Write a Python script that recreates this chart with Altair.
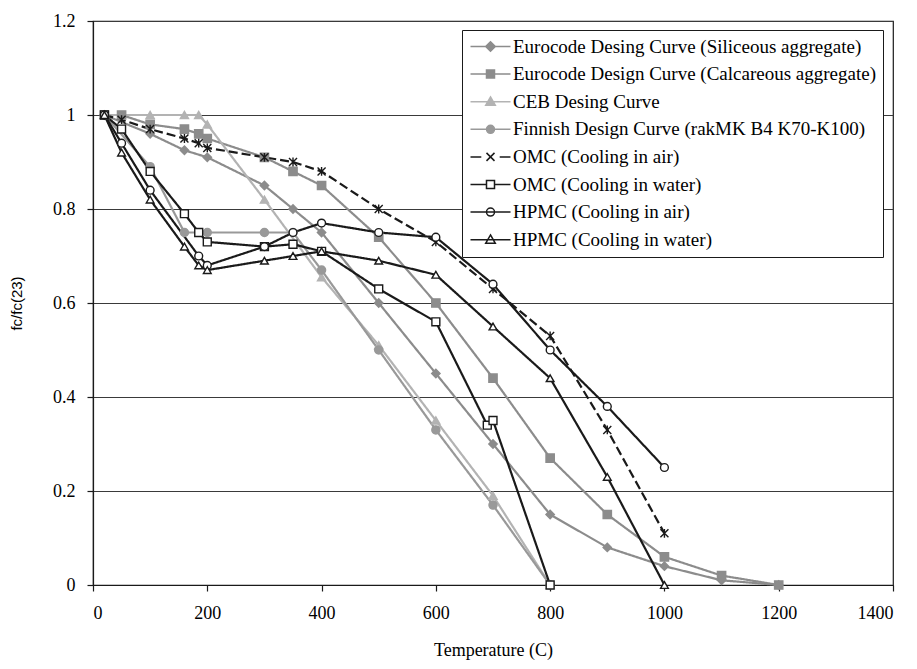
import altair as alt
import pandas as pd

# ---------------- data ----------------
names = [
    "Eurocode Desing Curve (Siliceous aggregate)",
    "Eurocode Design Curve (Calcareous aggregate)",
    "CEB Desing Curve",
    "Finnish Design Curve (rakMK B4 K70-K100)",
    "OMC (Cooling in air)",
    "OMC (Cooling in water)",
    "HPMC (Cooling in air)",
    "HPMC (Cooling in water)",
]

T_sil = [20, 100, 160, 200, 300, 350, 400, 500, 600, 700, 800, 900, 1000, 1100, 1200]
V_sil = [1.0, 0.96, 0.925, 0.91, 0.85, 0.80, 0.75, 0.60, 0.45, 0.30, 0.15, 0.08, 0.04, 0.01, 0.0]

T_cal = [20, 50, 100, 160, 185, 200, 300, 350, 400, 500, 600, 700, 800, 900, 1000, 1100, 1200]
V_cal = [1.0, 1.0, 0.98, 0.97, 0.96, 0.95, 0.91, 0.88, 0.85, 0.74, 0.60, 0.44, 0.27, 0.15, 0.06, 0.02, 0.0]

T_ceb = [20, 100, 160, 185, 200, 300, 400, 500, 600, 700, 800]
V_ceb = [1.0, 1.0, 1.0, 1.0, 0.98, 0.82, 0.655, 0.51, 0.35, 0.19, 0.0]

T_fin = [20, 100, 160, 200, 300, 350, 400, 500, 600, 700, 800]
V_fin = [1.0, 0.89, 0.75, 0.75, 0.75, 0.75, 0.67, 0.50, 0.33, 0.17, 0.0]

T_omc_air = [20, 50, 100, 160, 185, 200, 300, 350, 400, 500, 600, 700, 800, 900, 1000]
V_omc_air = [1.0, 0.99, 0.97, 0.95, 0.94, 0.93, 0.91, 0.90, 0.88, 0.80, 0.73, 0.63, 0.53, 0.33, 0.11]

T_omc_wat = [20, 50, 100, 160, 185, 200, 300, 350, 400, 500, 600, 690, 700, 800]
V_omc_wat = [1.0, 0.97, 0.88, 0.79, 0.75, 0.73, 0.72, 0.725, 0.71, 0.63, 0.56, 0.34, 0.35, 0.0]

T_hpmc_air = [20, 50, 100, 185, 200, 300, 350, 400, 500, 600, 700, 800, 900, 1000]
V_hpmc_air = [1.0, 0.94, 0.84, 0.70, 0.68, 0.72, 0.75, 0.77, 0.75, 0.74, 0.64, 0.50, 0.38, 0.25]

T_hpmc_wat = [20, 50, 100, 160, 185, 200, 300, 350, 400, 500, 600, 700, 800, 900, 1000]
V_hpmc_wat = [1.0, 0.92, 0.82, 0.72, 0.68, 0.67, 0.69, 0.70, 0.71, 0.69, 0.66, 0.55, 0.44, 0.23, 0.0]

x_ticks = [0, 200, 400, 600, 800, 1000, 1200, 1400]
y_ticks = [0, 0.2, 0.4, 0.6, 0.8, 1, 1.2]

series_T = [T_sil, T_cal, T_ceb, T_fin, T_omc_air, T_omc_wat, T_hpmc_air, T_hpmc_wat]
series_V = [V_sil, V_cal, V_ceb, V_fin, V_omc_air, V_omc_wat, V_hpmc_air, V_hpmc_wat]

rows = []
for n, ts, vs in zip(names, series_T, series_V):
    for i, (t, v) in enumerate(zip(ts, vs)):
        rows.append({"series": n, "T": t, "v": v, "idx": i})
df = pd.DataFrame(rows)

# ---------------- styles ----------------
BLACK = "#1a1a1a"
line_colors = ["#8c8c8c", "#8c8c8c", "#b3b3b3", "#999999", BLACK, BLACK, BLACK, BLACK]
line_dash = [[1, 0], [1, 0], [1, 0], [1, 0], [9, 4], [1, 0], [1, 0], [1, 0]]
line_widths = [2.2, 2.2, 2.2, 2.2, 1.6, 1.6, 1.6, 1.6]

AST = "M-1,-1L1,1M-1,1L1,-1M0,-1.1L0,1.1"
pt_shapes = ["diamond", "square", "triangle-up", "circle", AST, "square", "circle", "triangle-up"]
pt_fill = ["#8c8c8c", "#8c8c8c", "#b3b3b3", "#999999", "white", "white", "white", "white"]
pt_stroke = ["#8c8c8c", "#8c8c8c", "#b3b3b3", "#999999", BLACK, BLACK, BLACK, BLACK]
pt_size = [70, 60, 70, 70, 90, 75, 70, 80]

leg_paths = [
    "M-5,0H-1.2M1.2,0H5M0,-1.2L1.2,0L0,1.2L-1.2,0Z",
    "M-5,0H-1M1,0H5M-1,-1H1V1H-1Z",
    "M-5,0H5M0,-1.2L1.2,0.9H-1.2Z",
    "M-5,0H5M-1,0A1,1 0 1,1 1,0A1,1 0 1,1 -1,0Z",
    "M-5,0H-2.3M2.3,0H5M-1,-1L1,1M-1,1L1,-1",
    "M-5,0H-1M1,0H5M-1,-1H1V1H-1Z",
    "M-5,0H5M-1,0A1,1 0 1,1 1,0A1,1 0 1,1 -1,0Z",
    "M-5,0H5M0,-1.2L1.2,0.9H-1.2Z",
]

FONT = "Liberation Serif, Times New Roman, serif"

x_enc = alt.X(
    "T:Q",
    scale=alt.Scale(domain=[0, 1400], nice=False, zero=False),
    axis=alt.Axis(values=x_ticks, title="Temperature (C)", grid=False, format="d"),
)
y_enc = alt.Y(
    "v:Q",
    scale=alt.Scale(domain=[0, 1.2], nice=False),
    axis=alt.Axis(values=y_ticks, title="fc/fc(23)", grid=True, format="~g"),
)

base = alt.Chart(df)

lines = base.mark_line().encode(
    x=x_enc,
    y=y_enc,
    color=alt.Color("series:N", scale=alt.Scale(domain=names, range=line_colors), legend=None),
    strokeDash=alt.StrokeDash("series:N", scale=alt.Scale(domain=names, range=line_dash), legend=None),
    strokeWidth=alt.StrokeWidth("series:N", scale=alt.Scale(domain=names, range=line_widths), legend=None),
    order=alt.Order("idx:Q"),
)

points = base.mark_point(filled=True, opacity=1, strokeWidth=1.4).encode(
    x="T:Q",
    y="v:Q",
    shape=alt.Shape("series:N", scale=alt.Scale(domain=names, range=pt_shapes), legend=None),
    fill=alt.Fill("series:N", scale=alt.Scale(domain=names, range=pt_fill), legend=None),
    stroke=alt.Stroke("series:N", scale=alt.Scale(domain=names, range=pt_stroke), legend=None),
    size=alt.Size("series:N", scale=alt.Scale(domain=names, range=pt_size), legend=None),
)

leg = alt.Legend(
    title=None,
    orient="none",
    legendX=369,
    legendY=9,
    fillColor="white",
    strokeColor=BLACK,
    padding=7,
    symbolSize=64,
    symbolStrokeWidth=1.5,
    symbolOffset=12,
    labelOffset=13,
    labelLimit=500,
    labelFont=FONT,
    labelFontSize=19,
    labelColor="black",
    rowPadding=7.6,
    symbolOpacity=1,
)

leg_df = pd.DataFrame({"legend_series": names})
legend_layer = alt.Chart(leg_df).mark_point(filled=True, opacity=0).encode(
    shape=alt.Shape("legend_series:N", scale=alt.Scale(domain=names, range=leg_paths), legend=leg, sort=names),
    fill=alt.Fill("legend_series:N", scale=alt.Scale(domain=names, range=pt_fill), legend=leg, sort=names),
    stroke=alt.Stroke("legend_series:N", scale=alt.Scale(domain=names, range=pt_stroke), legend=leg, sort=names),
)

chart = (
    alt.layer(lines, points, legend_layer)
    .resolve_scale(shape="independent", fill="independent", stroke="independent")
    .properties(
        width=800,
        height=564,
        autosize=alt.AutoSizeParams(type="none"),
        padding={"left": 85, "top": 13, "right": 16, "bottom": 76},
        background="white",
    )
    .configure_view(stroke=BLACK, strokeWidth=1.2)
    .configure_axis(
        domainColor=BLACK,
        domainWidth=1.2,
        tickColor=BLACK,
        tickWidth=1.2,
        tickSize=6,
        gridColor="#3a3a3a",
        gridWidth=1,
        labelFont=FONT,
        labelFontSize=18,
        labelColor="black",
        titleColor="black",
        titleFontWeight="normal",
    )
    .configure_axisX(labelPadding=13, titleFont=FONT, titleFontSize=18, titlePadding=19)
    .configure_axisY(labelPadding=12, titleFont="Liberation Sans, Arial, sans-serif", titleFontSize=15, titlePadding=28)
)

chart.save("out.html", embed_options={"renderer": "svg", "actions": False})
